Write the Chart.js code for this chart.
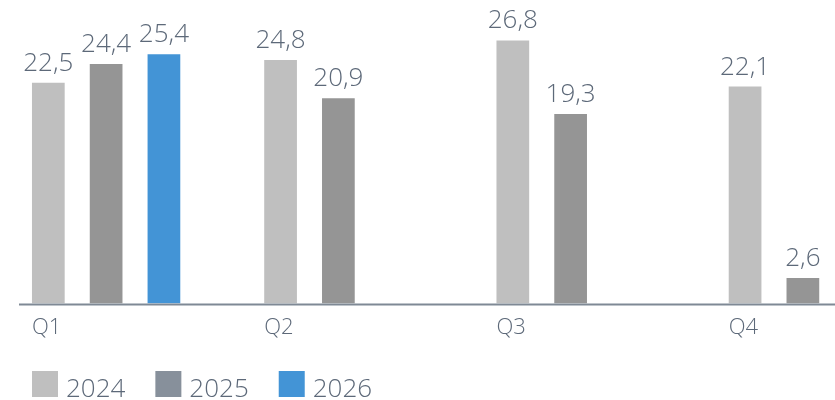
<!DOCTYPE html>
<html>
<head>
<meta charset="utf-8">
<script src="https://cdn.jsdelivr.net/npm/chart.js@4.4.1/dist/chart.umd.min.js"></script>
<style>
  html, body { margin: 0; padding: 0; background: #fff; }
  .frame { position: relative; width: 835px; height: 400px; overflow: hidden; }
  /* plot runs past the right edge, the last 2026 slot is cut off */
  .wrap { position: absolute; left: -10px; top: 0; width: 929px; height: 400px; }
</style>
</head>
<body>
<div class="frame"><div class="wrap"><canvas id="quarterChart"></canvas></div></div>
<script>
const QUARTERS = ['Q1', 'Q2', 'Q3', 'Q4'];
const YEARS = ['2024', '2025', '2026'];
const VALUES_2024 = [22.5, 24.8, 26.8, 22.1];
const VALUES_2025 = [24.4, 20.9, 19.3, 2.6];
const VALUES_2026 = [25.4, null, null, null];

const BAR_COLORS = ['#bfbfbf', '#959595', '#4394d6'];
const KEY_COLORS = ['#bfbfbf', '#87909b', '#4394d6'];
const TEXT = '#5d6979';
const FONT = '"Open Sans", "Noto Sans", sans-serif';
const WEIGHT = 350;

const fmt = v => v.toFixed(1).replace('.', ',');

// value labels above each bar
const barValues = {
  id: 'barValues',
  afterDatasetsDraw(chart) {
    const { ctx } = chart;
    ctx.save();
    ctx.font = `${WEIGHT} 26px ${FONT}`;
    ctx.fillStyle = TEXT;
    ctx.textAlign = 'center';
    ctx.textBaseline = 'alphabetic';
    chart.data.datasets.forEach((ds, i) => {
      chart.getDatasetMeta(i).data.forEach((bar, j) => {
        const v = ds.data[j];
        if (v == null) return;
        ctx.fillText(fmt(v), bar.x, bar.y - 12);
      });
    });
    ctx.restore();
  }
};

// baseline under the bars, starts a little in from the left edge
const baseLine = {
  id: 'baseLine',
  afterDatasetsDraw(chart) {
    const { ctx, chartArea } = chart;
    ctx.save();
    ctx.strokeStyle = '#7f8995';
    ctx.lineWidth = 2;
    ctx.beginPath();
    ctx.moveTo(chartArea.left + 29, chartArea.bottom + 1);
    ctx.lineTo(chart.width, chartArea.bottom + 1);
    ctx.stroke();
    ctx.restore();
  }
};

// year key along the bottom
const yearKey = {
  id: 'yearKey',
  afterDraw(chart) {
    const { ctx } = chart;
    ctx.save();
    ctx.font = `${WEIGHT} 26px ${FONT}`;
    ctx.textBaseline = 'alphabetic';
    let x = 42;
    const y = 371;
    chart.data.datasets.forEach((ds, i) => {
      ctx.fillStyle = KEY_COLORS[i];
      ctx.fillRect(x, y, 26, 26);
      x += 26 + 8;
      ctx.fillStyle = TEXT;
      ctx.fillText(ds.label, x, y + 26);
      x += ctx.measureText(ds.label).width + 30;
    });
    ctx.restore();
  }
};

new Chart(document.getElementById('quarterChart'), {
  type: 'bar',
  data: {
    labels: QUARTERS,
    datasets: [
      { label: YEARS[0], data: VALUES_2024, backgroundColor: BAR_COLORS[0] },
      { label: YEARS[1], data: VALUES_2025, backgroundColor: BAR_COLORS[1] },
      { label: YEARS[2], data: VALUES_2026, backgroundColor: BAR_COLORS[2] },
    ],
  },
  options: {
    responsive: true,
    maintainAspectRatio: false,
    animation: false,
    layout: { padding: { top: 9, bottom: 48, left: 0, right: 0 } },
    datasets: { bar: { categoryPercentage: 0.7466, barPercentage: 0.566 } },
    plugins: { legend: { display: false }, tooltip: { enabled: false } },
    scales: {
      x: {
        grid: { display: false, drawTicks: false },
        border: { display: false },
        ticks: { color: TEXT, font: { family: FONT, size: 22, weight: String(WEIGHT) }, padding: 11, labelOffset: -59.5 },
      },
      y: { display: false, min: 0, max: 30 },
    },
  },
  plugins: [barValues, baseLine, yearKey],
});
</script>
</body>
</html>
